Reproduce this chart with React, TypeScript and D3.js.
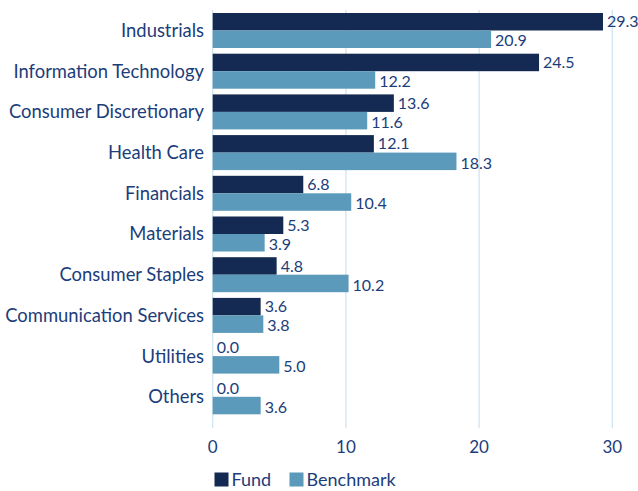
import React from "react";
import * as d3 from "d3";

const categories = [
  "Industrials",
  "Information Technology",
  "Consumer Discretionary",
  "Health Care",
  "Financials",
  "Materials",
  "Consumer Staples",
  "Communication Services",
  "Utilities",
  "Others",
];
const fund = [29.3, 24.5, 13.6, 12.1, 6.8, 5.3, 4.8, 3.6, 0.0, 0.0];
const benchmark = [20.9, 12.2, 11.6, 18.3, 10.4, 3.9, 10.2, 3.8, 5.0, 3.6];
const ticks = [0, 10, 20, 30];
const seriesNames = ["Fund", "Benchmark"];

const W = 638;
const H = 491;
const FUND_C = "#152a52";
const BENCH_C = "#5b9aba";
const TEXT_C = "#1b3d7a";
const GRID_C = "#cfe5ee";
const FONT = "Lato, 'Open Sans', sans-serif";

export default function App() {
  const x = d3.scaleLinear().domain([0, 30]).range([212.7, 612.3]);
  const y = d3
    .scaleBand<string>()
    .domain(categories)
    .range([10.15, 417.15])
    .paddingInner(0.14)
    .paddingOuter(0.07);
  const bh = y.bandwidth() / 2;
  const gridTop = 10;
  const gridBottom = 428;

  return (
    <svg width={W} height={H} style={{ position: "absolute", left: 0, top: 0 }}>
      <rect width={W} height={H} fill="#fff" />
      {ticks.map((t) => (
        <g key={t}>
          <line x1={x(t)} x2={x(t)} y1={gridTop} y2={gridBottom} stroke={GRID_C} strokeWidth={1.3} />
          <text
            x={x(t)}
            y={453}
            textAnchor="middle"
            fontFamily={FONT}
            fontSize={17}
            fill={TEXT_C}
          >
            {t}
          </text>
        </g>
      ))}
      {categories.map((c, i) => {
        const y0 = y(c)!;
        return (
          <g key={c}>
            <text
              x={204}
              y={y0 + y.bandwidth() / 2}
              dy="0.35em"
              textAnchor="end"
              fontFamily={FONT}
              fontSize={18.4}
              fill={TEXT_C}
            >
              {c}
            </text>
            <rect x={x(0)} y={y0} width={x(fund[i]) - x(0)} height={bh} fill={FUND_C} />
            <rect x={x(0)} y={y0 + bh} width={x(benchmark[i]) - x(0)} height={bh} fill={BENCH_C} />
            <text
              x={x(fund[i]) + 4}
              y={y0 + bh / 2}
              dy="0.35em"
              fontFamily={FONT}
              fontSize={16}
              fill={TEXT_C}
            >
              {fund[i].toFixed(1)}
            </text>
            <text
              x={x(benchmark[i]) + 4}
              y={y0 + bh * 1.5}
              dy="0.45em"
              fontFamily={FONT}
              fontSize={16}
              fill={TEXT_C}
            >
              {benchmark[i].toFixed(1)}
            </text>
          </g>
        );
      })}
      <g>
        <rect x={214.5} y={472.5} width={14} height={14} fill={FUND_C} />
        <text x={231.5} y={486} fontFamily={FONT} fontSize={18} fill={TEXT_C}>
          {seriesNames[0]}
        </text>
        <rect x={289.5} y={472.5} width={14} height={14} fill={BENCH_C} />
        <text x={306.5} y={486} fontFamily={FONT} fontSize={18} fill={TEXT_C}>
          {seriesNames[1]}
        </text>
      </g>
    </svg>
  );
}
